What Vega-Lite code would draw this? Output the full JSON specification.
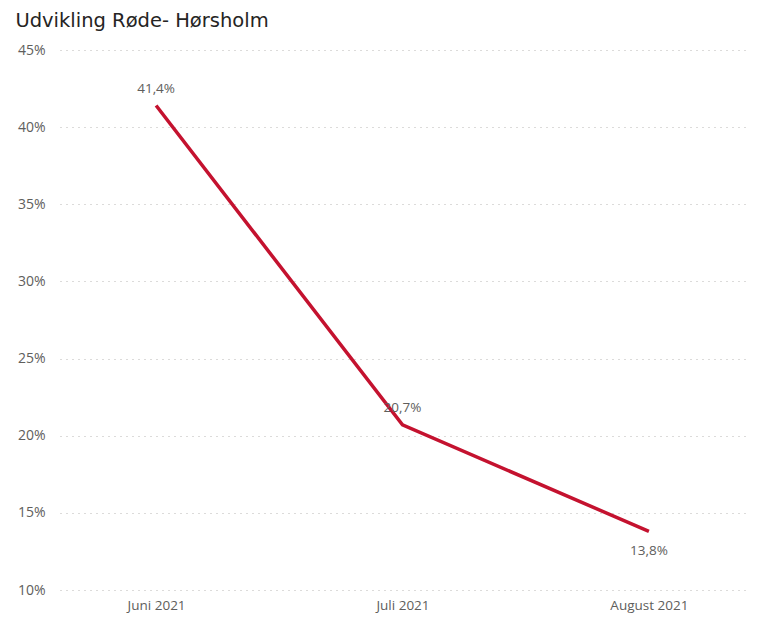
{
  "$schema": "https://vega.github.io/schema/vega-lite/v6.json",
  "width": 685,
  "height": 540,
  "padding": {"left": 15, "top": 10, "right": 27, "bottom": 8},
  "background": "#ffffff",
  "config": {
    "locale": {"number": {"decimal": ",", "thousands": ".", "grouping": [3], "currency": ["", " kr."]}},
    "view": {"stroke": null},
    "font": "Open Sans"
  },
  "title": {
    "text": "Udvikling Røde- Hørsholm",
    "anchor": "start",
    "frame": "bounds",
    "font": "DejaVu Sans",
    "fontSize": 19.5,
    "fontWeight": "normal",
    "color": "#252423",
    "dx": -2,
    "offset": 12
  },
  "data": {
    "values": [
      {"month": "Juni 2021", "value": 0.414},
      {"month": "Juli 2021", "value": 0.207},
      {"month": "August 2021", "value": 0.138}
    ]
  },
  "encoding": {
    "x": {
      "field": "month",
      "type": "ordinal",
      "sort": null,
      "scale": {"type": "point", "padding": 0.39},
      "axis": {
        "title": null,
        "labelAngle": 0,
        "domain": false,
        "ticks": false,
        "labelFont": "Open Sans",
        "labelFontSize": 13.5,
        "labelColor": "#605E5C",
        "labelPadding": 8
      }
    },
    "y": {
      "field": "value",
      "type": "quantitative",
      "scale": {"domain": [0.1, 0.45], "nice": false, "zero": false},
      "axis": {
        "title": null,
        "format": ".0%",
        "values": [0.1, 0.15, 0.2, 0.25, 0.3, 0.35, 0.4, 0.45],
        "domain": false,
        "ticks": false,
        "labelFont": "Open Sans",
        "labelFontSize": 14,
        "labelColor": "#605E5C",
        "labelPadding": 15,
        "grid": true,
        "gridColor": "#B8B6B4",
        "gridDash": [1, 5],
        "gridWidth": 1
      }
    }
  },
  "layer": [
    {
      "mark": {"type": "line", "color": "#C4122F", "strokeWidth": 3.5, "strokeCap": "butt"}
    },
    {
      "transform": [{"filter": "datum.month != 'August 2021'"}],
      "mark": {"type": "text", "dy": -17, "fontSize": 13.5, "color": "#605E5C", "font": "Open Sans"},
      "encoding": {"text": {"field": "value", "type": "quantitative", "format": ".1%"}}
    },
    {
      "transform": [{"filter": "datum.month == 'August 2021'"}],
      "mark": {"type": "text", "dy": 20, "fontSize": 13.5, "color": "#605E5C", "font": "Open Sans"},
      "encoding": {"text": {"field": "value", "type": "quantitative", "format": ".1%"}}
    }
  ]
}
